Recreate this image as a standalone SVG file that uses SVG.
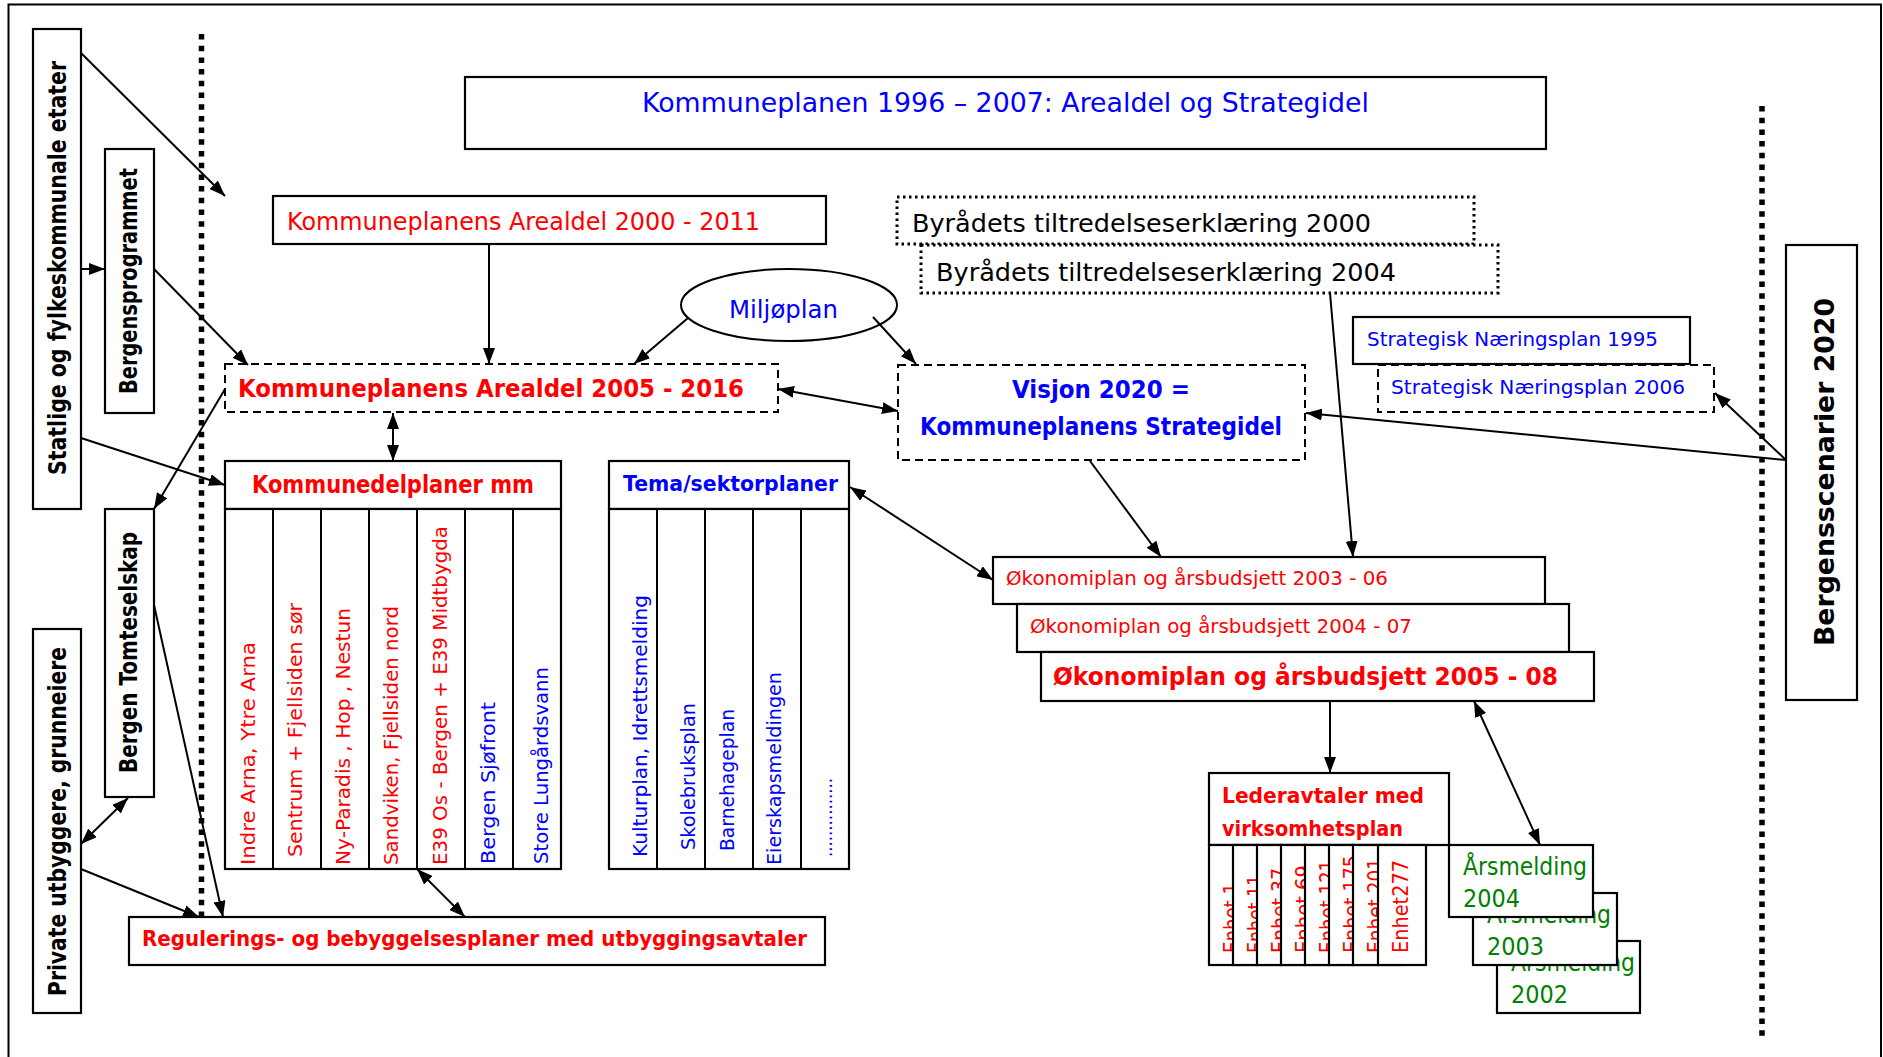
<svg xmlns="http://www.w3.org/2000/svg" width="1883" height="1057" viewBox="0 0 1883 1057">
  <style>
    text { font-family: "DejaVu Sans", "Liberation Sans", sans-serif; }
    .b { font-weight: bold; }
    .red { fill: #ff0000; }
    .blue { fill: #0000ff; }
    .green { fill: #008000; }
    .blk { fill: #000000; }
    .box { fill: #ffffff; stroke: #000000; stroke-width: 2.2; }
    .dash { fill: #ffffff; stroke: #000000; stroke-width: 2; stroke-dasharray: 8 5; }
    .dots { fill: #ffffff; stroke: #000000; stroke-width: 3; stroke-dasharray: 2.5 3.5; }
    .sep { fill: none; stroke: #000000; stroke-width: 5.5; stroke-dasharray: 5.5 6.2; }
    .ln { fill: none; stroke: #000000; stroke-width: 2; }
    .a1 { marker-end: url(#ah); }
    .a2 { marker-start: url(#ah); marker-end: url(#ah); }
  </style>
  <defs>
    <marker id="ah" viewBox="0 0 16 12" refX="16" refY="6" markerWidth="16" markerHeight="12" markerUnits="userSpaceOnUse" orient="auto-start-reverse">
      <path d="M0,0 L16,6 L0,12 z" fill="#000000"/>
    </marker>
  </defs>

  <rect width="1883" height="1057" fill="#ffffff"/>
  <!-- page frame -->
  <path d="M8.5,1060 V4.5 H1881 V1060" fill="none" stroke="#000000" stroke-width="2"/>

  <!-- boundary lines -->
  <line class="sep" x1="201.5" y1="34" x2="201.5" y2="916"/>
  <line class="sep" x1="1762" y1="106" x2="1762" y2="1038" stroke-width="6"/>

  <!-- external actors (left) -->
  <g id="statlige">
    <rect class="box" x="33" y="29" width="48" height="480"/>
    <text class="b blk" font-size="24" transform="translate(66,475) rotate(-90)" textLength="414" lengthAdjust="spacingAndGlyphs">Statlige og fylkeskommunale etater</text>
  </g>
  <g id="bergensprogrammet">
    <rect class="box" x="105" y="149" width="49" height="264"/>
    <text class="b blk" font-size="24" transform="translate(137,394) rotate(-90)" textLength="226" lengthAdjust="spacingAndGlyphs">Bergensprogrammet</text>
  </g>
  <g id="tomteselskap">
    <rect class="box" x="105" y="509" width="49" height="288"/>
    <text class="b blk" font-size="24" transform="translate(137,773) rotate(-90)" textLength="241" lengthAdjust="spacingAndGlyphs">Bergen Tomteselskap</text>
  </g>
  <g id="private">
    <rect class="box" x="33" y="629" width="48" height="384"/>
    <text class="b blk" font-size="24" transform="translate(66,996) rotate(-90)" textLength="349" lengthAdjust="spacingAndGlyphs">Private utbyggere,  grunneiere</text>
  </g>

  <!-- scenarios (right) -->
  <g id="scenarier">
    <rect class="box" x="1786" y="245" width="71" height="455"/>
    <text class="b blk" font-size="27" transform="translate(1834,646) rotate(-90)" textLength="348" lengthAdjust="spacingAndGlyphs">Bergensscenarier 2020</text>
  </g>

  <!-- top level plan -->
  <g id="kommuneplanen">
    <rect class="box" x="465" y="77" width="1081" height="72"/>
    <text class="blue" font-size="27" x="642" y="112" textLength="727" lengthAdjust="spacingAndGlyphs">Kommuneplanen 1996 – 2007: Arealdel og Strategidel</text>
  </g>

  <g id="arealdel2000">
    <rect class="box" x="273" y="196" width="553" height="48"/>
    <text class="red" font-size="25" x="287" y="230" textLength="473" lengthAdjust="spacingAndGlyphs">Kommuneplanens Arealdel 2000 - 2011</text>
  </g>

  <g id="byraad2000">
    <rect class="dots" x="897" y="197" width="577" height="47"/>
    <text class="blk" font-size="25" x="912" y="232" textLength="459" lengthAdjust="spacingAndGlyphs">Byrådets tiltredelseserklæring 2000</text>
  </g>
  <g id="byraad2004">
    <rect class="dots" x="921" y="245" width="577" height="48"/>
    <text class="blk" font-size="25" x="936" y="281" textLength="460" lengthAdjust="spacingAndGlyphs">Byrådets tiltredelseserklæring 2004</text>
  </g>

  <g id="miljoplan">
    <ellipse cx="789" cy="305" rx="108" ry="36" fill="#ffffff" stroke="#000000" stroke-width="2"/>
    <text class="blue" font-size="25" x="729" y="318" textLength="109" lengthAdjust="spacingAndGlyphs">Miljøplan</text>
  </g>

  <g id="arealdel2005">
    <rect class="dash" x="225" y="364" width="553" height="48"/>
    <text class="b red" font-size="25" x="238" y="397" textLength="506" lengthAdjust="spacingAndGlyphs">Kommuneplanens Arealdel 2005 - 2016</text>
  </g>

  <g id="visjon">
    <rect class="dash" x="898" y="365" width="407" height="95"/>
    <text class="b blue" font-size="25" x="1012" y="398" textLength="178" lengthAdjust="spacingAndGlyphs">Visjon 2020 =</text>
    <text class="b blue" font-size="25" x="920" y="435" textLength="362" lengthAdjust="spacingAndGlyphs">Kommuneplanens Strategidel</text>
  </g>

  <g id="naering1995">
    <rect class="box" x="1353" y="317" width="337" height="47"/>
    <text class="blue" font-size="20" x="1367" y="346" textLength="291" lengthAdjust="spacingAndGlyphs">Strategisk Næringsplan 1995</text>
  </g>
  <g id="naering2006">
    <rect class="dash" x="1378" y="365" width="336" height="47"/>
    <text class="blue" font-size="20" x="1391" y="394" textLength="294" lengthAdjust="spacingAndGlyphs">Strategisk Næringsplan 2006</text>
  </g>

  <!-- area plans table -->
  <g id="kommunedelplaner">
    <rect class="box" x="225" y="461" width="336" height="48"/>
    <text class="b red" font-size="24" x="252" y="493" textLength="282" lengthAdjust="spacingAndGlyphs">Kommunedelplaner mm</text>
    <rect class="box" x="225" y="509" width="336" height="360"/>
    <path class="ln" d="M273,509 V869 M321,509 V869 M369,509 V869 M417,509 V869 M465,509 V869 M513,509 V869"/>
    <g font-size="20">
      <text class="red" transform="translate(255,865) rotate(-90)" textLength="223" lengthAdjust="spacingAndGlyphs">Indre Arna, Ytre Arna</text>
      <text class="red" transform="translate(302,857) rotate(-90)" textLength="254" lengthAdjust="spacingAndGlyphs">Sentrum  +  Fjellsiden sør</text>
      <text class="red" transform="translate(350,865) rotate(-90)" textLength="257" lengthAdjust="spacingAndGlyphs">Ny-Paradis , Hop , Nestun</text>
      <text class="red" transform="translate(398,865) rotate(-90)" textLength="259" lengthAdjust="spacingAndGlyphs">Sandviken, Fjellsiden nord</text>
      <text class="red" transform="translate(447,865) rotate(-90)" textLength="339" lengthAdjust="spacingAndGlyphs">E39 Os - Bergen + E39 Midtbygda</text>
      <text class="blue" transform="translate(495,864) rotate(-90)" textLength="162" lengthAdjust="spacingAndGlyphs">Bergen Sjøfront</text>
      <text class="blue" transform="translate(548,864) rotate(-90)" textLength="197" lengthAdjust="spacingAndGlyphs">Store Lungårdsvann</text>
    </g>
  </g>

  <!-- sector plans table -->
  <g id="tema">
    <rect class="box" x="609" y="461" width="240" height="48"/>
    <text class="b blue" font-size="21" x="623" y="491" textLength="215" lengthAdjust="spacingAndGlyphs">Tema/sektorplaner</text>
    <rect class="box" x="609" y="509" width="240" height="360"/>
    <path class="ln" d="M657,509 V869 M705,509 V869 M753,509 V869 M801,509 V869"/>
    <g font-size="20" class="blue">
      <text transform="translate(647,857) rotate(-90)" textLength="262" lengthAdjust="spacingAndGlyphs">Kulturplan, Idrettsmelding</text>
      <text transform="translate(695,850) rotate(-90)" textLength="147" lengthAdjust="spacingAndGlyphs">Skolebruksplan</text>
      <text transform="translate(734,851) rotate(-90)" textLength="142" lengthAdjust="spacingAndGlyphs">Barnehageplan</text>
      <text transform="translate(781,865) rotate(-90)" textLength="193" lengthAdjust="spacingAndGlyphs">Eierskapsmeldingen</text>
      <text transform="translate(832,857) rotate(-90)" textLength="79" lengthAdjust="spacingAndGlyphs">...............</text>
    </g>
  </g>

  <g id="regulering">
    <rect class="box" x="129" y="917" width="696" height="48"/>
    <text class="b red" font-size="21" x="142" y="946" textLength="665" lengthAdjust="spacingAndGlyphs">Regulerings- og bebyggelsesplaner med utbyggingsavtaler</text>
  </g>

  <!-- economy plans -->
  <g id="okonomi2003">
    <rect class="box" x="993" y="557" width="552" height="47"/>
    <text class="red" font-size="20" x="1006" y="585" textLength="382" lengthAdjust="spacingAndGlyphs">Økonomiplan og årsbudsjett 2003 - 06</text>
  </g>
  <g id="okonomi2004">
    <rect class="box" x="1017" y="604" width="552" height="48"/>
    <text class="red" font-size="20" x="1030" y="633" textLength="382" lengthAdjust="spacingAndGlyphs">Økonomiplan og årsbudsjett 2004 - 07</text>
  </g>
  <g id="okonomi2005">
    <rect class="box" x="1041" y="652" width="553" height="49"/>
    <text class="b red" font-size="25" x="1053" y="685" textLength="505" lengthAdjust="spacingAndGlyphs">Økonomiplan og årsbudsjett 2005 - 08</text>
  </g>

  <!-- leader agreements with units -->
  <g id="lederavtaler">
    <rect class="box" x="1209" y="773" width="240" height="72"/>
    <text class="b red" font-size="22" x="1222" y="803" textLength="202" lengthAdjust="spacingAndGlyphs">Lederavtaler med</text>
    <text class="b red" font-size="22" x="1222" y="836" textLength="181" lengthAdjust="spacingAndGlyphs">virksomhetsplan</text>
    <g font-size="21" class="red">
      <rect class="box" x="1209" y="845" width="48" height="120"/>
      <text transform="translate(1239,953) rotate(-90)" textLength="70" lengthAdjust="spacingAndGlyphs">Enhet 1</text>
      <rect class="box" x="1233" y="845" width="48" height="120"/>
      <text transform="translate(1263,953) rotate(-90)" textLength="78" lengthAdjust="spacingAndGlyphs">Enhet 11</text>
      <rect class="box" x="1257" y="845" width="48" height="120"/>
      <text transform="translate(1287,953) rotate(-90)" textLength="85" lengthAdjust="spacingAndGlyphs">Enhet 37</text>
      <rect class="box" x="1281" y="845" width="48" height="120"/>
      <text transform="translate(1311,953) rotate(-90)" textLength="88" lengthAdjust="spacingAndGlyphs">Enhet 69</text>
      <rect class="box" x="1305" y="845" width="48" height="120"/>
      <text transform="translate(1335,953) rotate(-90)" textLength="93" lengthAdjust="spacingAndGlyphs">Enhet 121</text>
      <rect class="box" x="1329" y="845" width="48" height="120"/>
      <text transform="translate(1359,953) rotate(-90)" textLength="98" lengthAdjust="spacingAndGlyphs">Enhet 175</text>
      <rect class="box" x="1353" y="845" width="48" height="120"/>
      <text transform="translate(1383,953) rotate(-90)" textLength="95" lengthAdjust="spacingAndGlyphs">Enhet 201</text>
      <rect class="box" x="1378" y="845" width="48" height="120"/>
      <text transform="translate(1408,953) rotate(-90)" textLength="93" lengthAdjust="spacingAndGlyphs">Enhet277</text>
    </g>
  </g>

  <!-- annual reports -->
  <g id="aarsmelding2002">
    <rect class="box" x="1497" y="941" width="143" height="72"/>
    <text class="green" font-size="24" x="1511" y="971" textLength="124" lengthAdjust="spacingAndGlyphs">Årsmelding</text>
    <text class="green" font-size="24" x="1511" y="1003" textLength="57" lengthAdjust="spacingAndGlyphs">2002</text>
  </g>
  <g id="aarsmelding2003">
    <rect class="box" x="1473" y="893" width="144" height="72"/>
    <text class="green" font-size="24" x="1487" y="923" textLength="124" lengthAdjust="spacingAndGlyphs">Årsmelding</text>
    <text class="green" font-size="24" x="1487" y="955" textLength="57" lengthAdjust="spacingAndGlyphs">2003</text>
  </g>
  <g id="aarsmelding2004">
    <rect class="box" x="1449" y="845" width="144" height="72"/>
    <text class="green" font-size="24" x="1463" y="875" textLength="124" lengthAdjust="spacingAndGlyphs">Årsmelding</text>
    <text class="green" font-size="24" x="1463" y="907" textLength="57" lengthAdjust="spacingAndGlyphs">2004</text>
  </g>

  <!-- connectors -->
  <g id="connectors" class="ln">
    <line class="a1" x1="81" y1="53" x2="225" y2="196"/>
    <line class="a1" x1="81" y1="269" x2="105" y2="269"/>
    <line class="a1" x1="154" y1="269" x2="248" y2="365"/>
    <line class="a1" x1="489" y1="244" x2="489" y2="364"/>
    <line class="a1" x1="81" y1="438" x2="225" y2="485"/>
    <line class="a1" x1="225" y1="389" x2="154" y2="509"/>
    <line class="a2" x1="393" y1="413" x2="393" y2="461"/>
    <line class="a1" x1="688" y1="318" x2="634" y2="364"/>
    <line class="a1" x1="873" y1="317" x2="916" y2="364"/>
    <line class="a2" x1="778" y1="389" x2="898" y2="411"/>
    <line class="a2" x1="81" y1="844" x2="128" y2="798"/>
    <line class="a1" x1="81" y1="869" x2="199" y2="917"/>
    <line class="a1" x1="154" y1="605" x2="223" y2="917"/>
    <line class="a2" x1="417" y1="869" x2="465" y2="917"/>
    <line class="a2" x1="850" y1="487" x2="993" y2="580"/>
    <line class="a1" x1="1090" y1="461" x2="1161" y2="557"/>
    <line class="a1" x1="1330" y1="293" x2="1353" y2="557"/>
    <line class="a1" x1="1786" y1="460" x2="1306" y2="413"/>
    <line class="a1" x1="1786" y1="460" x2="1715" y2="393"/>
    <line class="a1" x1="1330" y1="701" x2="1330" y2="773"/>
    <line class="a2" x1="1474" y1="701" x2="1540" y2="845"/>
  </g>
</svg>
